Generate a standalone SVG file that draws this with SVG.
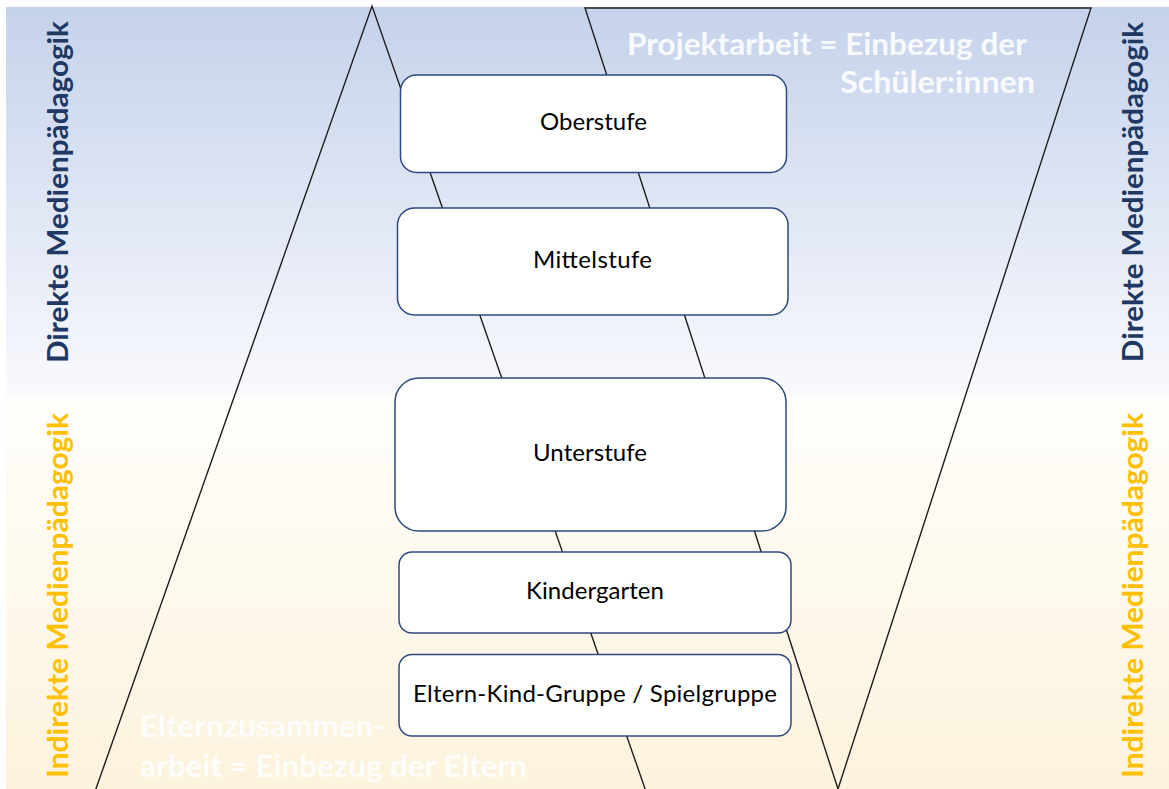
<svg xmlns="http://www.w3.org/2000/svg" width="1169" height="789" viewBox="0 0 1169 789">
<defs>
<linearGradient id="bg" x1="0" y1="0" x2="0" y2="1">
<stop offset="0" stop-color="#C5D2EB"/>
<stop offset="0.49" stop-color="#F8F9FD"/>
<stop offset="0.5" stop-color="#FFFEFB"/>
<stop offset="1" stop-color="#FCF3DD"/>
</linearGradient>
</defs>
<style>
.box{fill:#FFFFFF;stroke:#2E4A7D;stroke-width:1.5}
.lbl{font-family:Lato,"Open Sans","Liberation Sans",sans-serif;font-size:24px;fill:#000;text-anchor:middle}
.tri{fill:none;stroke:#1E1E1E;stroke-width:1.4;stroke-linejoin:miter}
.side{font-family:Lato,"Open Sans","Liberation Sans",sans-serif;font-weight:bold;font-size:29px}
.dir{fill:#203864}
.ind{fill:#FFC000}
.wt{font-family:Lato,"Open Sans","Liberation Sans",sans-serif;font-weight:bold;font-size:30px;fill:#FFFFFF;fill-opacity:0.9}
</style>
<rect x="6" y="7" width="1163" height="782" fill="url(#bg)"/>
<g id="shapes">
<polyline class="tri" points="92,800 372,6 649,800"/>
<polygon class="tri" points="585,8 1091,8 838,789"/>
</g>
<g id="connectors"/>
<g id="side-labels">
<text class="side dir" transform="translate(68,363) rotate(-90)" textLength="342" lengthAdjust="spacingAndGlyphs">Direkte Medienpädagogik</text>
<text class="side ind" transform="translate(68,778) rotate(-90)" textLength="365" lengthAdjust="spacingAndGlyphs">Indirekte Medienpädagogik</text>
<text class="side dir" transform="translate(1143,362) rotate(-90)" textLength="340" lengthAdjust="spacingAndGlyphs">Direkte Medienpädagogik</text>
<text class="side ind" transform="translate(1143,778) rotate(-90)" textLength="365" lengthAdjust="spacingAndGlyphs">Indirekte Medienpädagogik</text>
</g>
<g id="note-projekt">
<text class="wt" x="627" y="55" textLength="400" lengthAdjust="spacingAndGlyphs">Projektarbeit = Einbezug der</text>
<text class="wt" x="840" y="93" textLength="195" lengthAdjust="spacingAndGlyphs">Schüler:innen</text>
</g>
<g id="note-eltern">
<text class="wt" x="140" y="737" textLength="245" lengthAdjust="spacingAndGlyphs">Elternzusammen-</text>
<text class="wt" x="140" y="777" textLength="387" lengthAdjust="spacingAndGlyphs">arbeit = Einbezug der Eltern</text>
</g>
<g id="node-oberstufe">
<rect class="box" x="400.5" y="75" width="386" height="97.5" rx="16"/>
<text class="lbl" x="593.5" y="130" textLength="107">Oberstufe</text>
</g>
<g id="node-mittelstufe">
<rect class="box" x="397.5" y="208" width="390.5" height="107" rx="17"/>
<text class="lbl" x="592.5" y="268" textLength="119">Mittelstufe</text>
</g>
<g id="node-unterstufe">
<rect class="box" x="395" y="378" width="391" height="153" rx="24"/>
<text class="lbl" x="590" y="461" textLength="114">Unterstufe</text>
</g>
<g id="node-kindergarten">
<rect class="box" x="399" y="552" width="392" height="81" rx="13"/>
<text class="lbl" x="595" y="599" textLength="138">Kindergarten</text>
</g>
<g id="node-eltern-kind">
<rect class="box" x="399" y="654.5" width="392" height="81.5" rx="13"/>
<text class="lbl" x="595" y="702" textLength="364">Eltern-Kind-Gruppe / Spielgruppe</text>
</g>
</svg>
